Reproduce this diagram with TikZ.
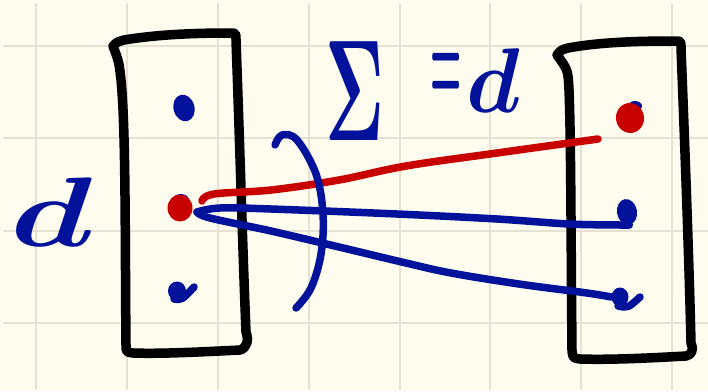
\documentclass[tikz,border=0pt]{standalone}
\usetikzlibrary{shapes.geometric}
\definecolor{paper}{HTML}{FDFCEE}
\definecolor{gridc}{HTML}{E5E2D3}
\definecolor{inkblue}{HTML}{02129A}
\definecolor{inkred}{HTML}{C80000}
\begin{document}
\begin{tikzpicture}[x=1pt,y=-1pt,line cap=round,line join=round,
  boxline/.style={line width=9.5pt,black},
  blueink/.style={line width=7.5pt,inkblue},
  redink/.style={line width=7.5pt,inkred},
  gridline/.style={line width=2pt,gridc},
  blob/.style={ellipse,inner sep=0pt,draw=none},
  handtext/.style={inner sep=0pt,text=inkblue,anchor=base west}]
\fill[paper] (0,0) rectangle (708,391);
\useasboundingbox (0,0) rectangle (708,391);
% grid
\foreach \x in {36,127,218,309,400,490,581,672} \draw[gridline] (\x,4) -- (\x,389);
\foreach \y in {46,138,231,323} \draw[gridline] (4,\y) -- (708,\y);
% left box
\draw[boxline] (113,46) .. controls (117,42) .. (124,40) .. controls (160,34) and (200,33) .. (230,33)
  .. controls (236,33) .. (236,40) .. controls (240,150) and (243,260) .. (246,332)
  .. controls (249,340) and (247,348) .. (240,350) .. controls (200,352) and (160,354) .. (133,353)
  .. controls (126,352) .. (126,345) .. controls (125,250) and (126,130) .. (121,80)
  .. controls (119,62) .. (113,46);
% right box
\draw[boxline] (557,55) .. controls (561,50) .. (568,48) .. controls (600,42) and (640,41) .. (675,41)
  .. controls (681,41) .. (681,48) .. controls (685,150) and (689,260) .. (691,343)
  .. controls (694,349) and (692,355) .. (686,356) .. controls (650,358) and (610,360) .. (580,359)
  .. controls (573,358) .. (572,351) .. controls (571,250) and (571,140) .. (569,90)
  .. controls (568,70) .. (557,55);
% left dots
\node[blob,fill=inkblue,minimum width=21pt,minimum height=27pt,rotate=15] (L1) at (184,108) {};
\node[blob,fill=inkblue,minimum width=16pt,minimum height=12pt] (L2b) at (181,200) {};
\node[blob,fill=inkred,minimum width=25pt,minimum height=27pt] (L2) at (180,208) {};
\node[blob,fill=inkblue,minimum width=18pt,minimum height=19pt] (L3) at (177,291) {};
\draw[blueink] (174,299) .. controls (182,300) .. (194,287);
% right dots
\node[blob,fill=inkblue,minimum width=14pt,minimum height=10pt] (R1b) at (635,106) {};
\node[blob,fill=inkred,minimum width=28pt,minimum height=30pt,rotate=10] (R1) at (630,118) {};
\node[blob,fill=inkblue,minimum width=20pt,minimum height=26pt,rotate=10] (R2) at (627,212) {};
\node[blob,fill=inkblue,minimum width=17pt,minimum height=19pt] (R3) at (620,297) {};
\draw[blueink] (618,306) .. controls (628,308) .. (640,297);
% edges
\coordinate (tip) at (197,212);
\coordinate (redstart) at (202,201);
\coordinate (redend) at (598,139);
\draw[redink] plot[smooth,tension=0.6] coordinates {(redstart) (214,194) (271,190) (339,180) (406,166) (497,153) (redend)};
\draw[blueink] plot[smooth,tension=0.6] coordinates {(tip) (220,208) (271,209) (397,214) (497,219) (569,224) (620,225) (R2.south)};
\draw[blueink] plot[smooth,tension=0.6] coordinates {(tip) (210,218) (271,231) (339,247) (406,263) (451,273) (519,284) (587,293) (R3.west)};
% arc
\draw[blueink] plot[smooth,tension=0.6] coordinates {(275,145) (282,135) (297,140) (316,174) (323,214) (321,254) (311,288) (296,308)};
% labels
\node[handtext] (sig) at (325,140) {\scalebox{7.1}[14.4]{\boldmath$\Sigma$}};
\node[handtext] (eq) at (430,102) {\scalebox{3.5}[12.5]{\boldmath$=$}};
\node[handtext] (dr) at (466,112) {\scalebox{8.8}[9.2]{\boldmath$d$}};
\node[handtext] (dl) at (10,246) {\scalebox{13.5}[9.9]{\boldmath$d$}};
\end{tikzpicture}
\end{document}
